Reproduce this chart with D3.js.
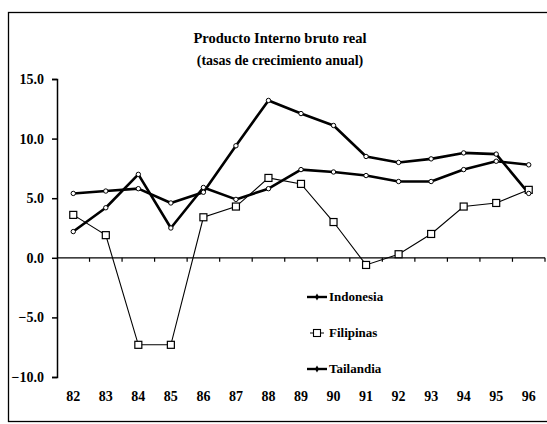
<!DOCTYPE html>
<html>
<head>
<meta charset="utf-8">
<script src="https://cdn.jsdelivr.net/npm/d3@7"></script>
<style>
  body { margin: 0; background: #fff; }
  text { font-family: "Liberation Serif", "Times New Roman", serif; fill: #000; }
</style>
</head>
<body>
<div id="chart"></div>
<script>
// years on the x axis
var years = ["82", "83", "84", "85", "86", "87", "88", "89", "90", "91", "92", "93", "94", "95", "96"];
// annual growth rates
var indonesia = [2.2, 4.2, 7.0, 2.5, 5.9, 4.9, 5.8, 7.4, 7.2, 6.9, 6.4, 6.4, 7.4, 8.1, 7.8];
var filipinas = [3.6, 1.9, -7.3, -7.3, 3.4, 4.3, 6.7, 6.2, 3.0, -0.6, 0.3, 2.0, 4.3, 4.6, 5.7];
var tailandia = [5.4, 5.6, 5.8, 4.6, 5.5, 9.4, 13.2, 12.1, 11.1, 8.5, 8.0, 8.3, 8.8, 8.7, 5.4];
var yTicks = [-10, -5, 0, 5, 10, 15];
var title = "Producto Interno bruto real";
var subtitle = "(tasas de crecimiento anual)";

function main() {
   var width = 547, height = 424;

   var svg = d3.select("#chart").append("svg")
      .attr("width", width)
      .attr("height", height);

   // outer frame
   svg.append("rect")
      .attr("x", 8.5).attr("y", 12.5)
      .attr("width", 540).attr("height", 409)
      .attr("fill", "none")
      .attr("stroke", "#000")
      .attr("stroke-width", 1.3);

   svg.append("text")
      .attr("x", 280).attr("y", 43)
      .attr("text-anchor", "middle")
      .style("font-size", "14.5px")
      .style("font-weight", "bold")
      .text(title);
   svg.append("text")
      .attr("x", 280).attr("y", 65)
      .attr("text-anchor", "middle")
      .style("font-size", "14px")
      .style("font-weight", "bold")
      .text(subtitle);

   var x = d3.scaleBand()
      .domain(years)
      .range([57, 545]);

   var y = d3.scaleLinear()
      .domain([-10, 15])
      .range([377, 79]);

   // y axis
   var yAxis = d3.axisLeft(y)
      .tickValues(yTicks)
      .tickFormat(d3.format(".1f"))
      .tickSizeOuter(0)
      .tickSize(5)
      .tickPadding(8);

   var gy = svg.append("g")
      .attr("transform", "translate(57,0)")
      .call(yAxis);
   gy.select(".domain").attr("stroke-width", 1.5);
   gy.selectAll(".tick line").attr("stroke-width", 1.5);
   gy.selectAll("text")
      .style("font-size", "14px")
      .style("font-weight", "bold")
      .style("font-family", "'Liberation Serif', serif");

   // zero line with ticks between the years
   svg.append("line")
      .attr("x1", x.range()[0]).attr("x2", x.range()[1])
      .attr("y1", y(0)).attr("y2", y(0))
      .attr("stroke", "#000")
      .attr("stroke-width", 1.3);

   svg.selectAll(".xtick")
      .data(years)
      .enter().append("line")
         .attr("class", "xtick")
         .attr("x1", function(d) { return x(d) + x.bandwidth(); })
         .attr("x2", function(d) { return x(d) + x.bandwidth(); })
         .attr("y1", y(0))
         .attr("y2", y(0) + 4)
         .attr("stroke", "#000")
         .attr("stroke-width", 1.2);

   // year labels at the bottom
   var xAxis = d3.axisBottom(x).tickSize(0).tickPadding(0);
   var gx = svg.append("g")
      .attr("transform", "translate(0,391)")
      .call(xAxis);
   gx.select(".domain").remove();
   gx.selectAll("text")
      .style("font-size", "14px")
      .style("font-weight", "bold")
      .style("font-family", "'Liberation Serif', serif");

   var cx = function(d, i) { return x(years[i]) + x.bandwidth() / 2; };

   var line = d3.line()
      .x(cx)
      .y(function(d) { return y(d); });

   // Filipinas: thin line with open squares
   svg.append("path")
      .datum(filipinas)
      .attr("d", line)
      .attr("fill", "none")
      .attr("stroke", "#000")
      .attr("stroke-width", 1.1);

   // thick lines
   [tailandia, indonesia].forEach(function(s) {
      svg.append("path")
         .datum(s)
         .attr("d", line)
         .attr("fill", "none")
         .attr("stroke", "#000")
         .attr("stroke-width", 2.6)
         .attr("stroke-linejoin", "round");
   });

   svg.selectAll(".sq")
      .data(filipinas)
      .enter().append("rect")
         .attr("class", "sq")
         .attr("x", function(d, i) { return cx(d, i) - 3.5; })
         .attr("y", function(d) { return y(d) - 3.5; })
         .attr("width", 7).attr("height", 7)
         .attr("fill", "#fff")
         .attr("stroke", "#000")
         .attr("stroke-width", 1.2);

   [indonesia, tailandia].forEach(function(s) {
      svg.selectAll(null)
         .data(s)
         .enter().append("circle")
            .attr("cx", cx)
            .attr("cy", function(d) { return y(d); })
            .attr("r", 2.2)
            .attr("fill", "#fff")
            .attr("stroke", "#000")
            .attr("stroke-width", 1);
   });

   // legend
   var legend = [
      {name: "Indonesia", marker: "diamond"},
      {name: "Filipinas", marker: "square"},
      {name: "Tailandia", marker: "diamond"}
   ];
   var lg = svg.selectAll(".legend")
      .data(legend)
      .enter().append("g")
         .attr("class", "legend")
         .attr("transform", function(d, i) { return "translate(307," + (297 + i * 36) + ")"; });

   lg.append("line")
      .attr("x1", function(d) { return d.marker == "square" ? 3 : 0; })
      .attr("x2", function(d) { return d.marker == "square" ? 17 : 20; })
      .attr("y1", 0).attr("y2", 0)
      .attr("stroke", "#000")
      .attr("stroke-width", function(d) { return d.marker == "square" ? 1 : 2.4; });

   lg.filter(function(d) { return d.marker == "square"; })
      .append("rect")
         .attr("x", 6.5).attr("y", -3.5)
         .attr("width", 7).attr("height", 7)
         .attr("fill", "#fff")
         .attr("stroke", "#000")
         .attr("stroke-width", 1.1);

   lg.filter(function(d) { return d.marker == "diamond"; })
      .append("path")
         .attr("d", d3.symbol(d3.symbolDiamond, 14)())
         .attr("transform", "translate(10,0)")
         .attr("fill", "#000");

   lg.append("text")
      .attr("x", 22)
      .attr("y", 4)
      .style("font-size", "13px")
      .style("font-weight", "bold")
      .text(function(d) { return d.name; });
}

main();
</script>
</body>
</html>
